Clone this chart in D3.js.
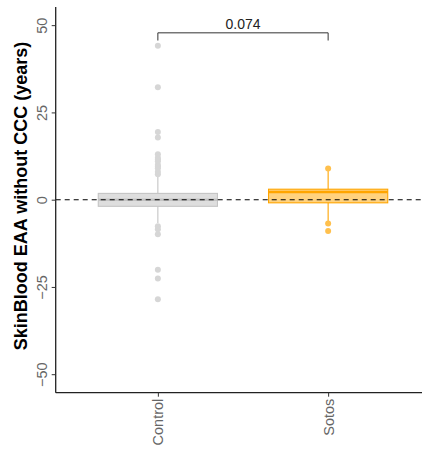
<!DOCTYPE html>
<html>
<head>
<meta charset="utf-8">
<script src="https://cdn.jsdelivr.net/npm/d3@7"></script>
<style>
  body { margin: 0; background: #fff; }
  text { font-family: "Liberation Sans", Arial, sans-serif; }
</style>
</head>
<body>
<script>
// box plot values
var categories = ["Control", "Sotos"];
var q1 = [-1.9, -0.9],
    median = [0, 2.2],
    q3 = [1.8, 3.0],
    whiskerLow = [-6.7, -6.8],
    whiskerHigh = [6.5, 8.9];
var controlPoints = [44.1, 32.2, 19.4, 17.8, 13, 12, 11.5, 11, 10, 9.5, 9, 8, 7.3,
                     -7.6, -8.5, -9.9, -20.1, -22.6, -28.5];
var sotosPoints = [8.9, -6.8, -9.0];
var yTicks = [-50, -25, 0, 25, 50];
var pLabel = "0.074";
var bracketY = 47.8, bracketTip = 45.6;

var strokeCol = ["#c4c4c4", "#ffa500"],
    fillCol = ["rgba(200,200,200,0.6)", "rgba(255,165,0,0.5)"],
    pointCol = ["#d6d6d6", "#ffc04d"];

var width = 422, height = 457;
var svg = d3.select("body").append("svg")
  .attr("width", width).attr("height", height);

var x = d3.scalePoint().domain(categories).range([55.7, 430.3]).padding(0.6);
var y = d3.scaleLinear().domain([-55.3, 55.2]).range([392.7, 7]);
var boxW = x.step() * 0.7;

// whiskers and boxes
categories.forEach(function(c, i) {
  var g = svg.append("g");
  g.append("line")
    .attr("x1", x(c)).attr("x2", x(c))
    .attr("y1", y(q3[i])).attr("y2", y(whiskerHigh[i]))
    .attr("stroke", strokeCol[i]).attr("stroke-width", 1.1);
  g.append("line")
    .attr("x1", x(c)).attr("x2", x(c))
    .attr("y1", y(q1[i])).attr("y2", y(whiskerLow[i]))
    .attr("stroke", strokeCol[i]).attr("stroke-width", 1.1);
  g.append("rect")
    .attr("x", x(c) - boxW / 2).attr("width", boxW)
    .attr("y", y(q3[i])).attr("height", y(q1[i]) - y(q3[i]))
    .attr("fill", fillCol[i]).attr("stroke", strokeCol[i]).attr("stroke-width", 1.1);
  g.append("line")
    .attr("x1", x(c) - boxW / 2).attr("x2", x(c) + boxW / 2)
    .attr("y1", y(median[i])).attr("y2", y(median[i]))
    .attr("stroke", strokeCol[i]).attr("stroke-width", 2.4);
});

// points
svg.append("g").selectAll("circle")
  .data(controlPoints.map(function(v) { return [0, v]; })
    .concat(sotosPoints.map(function(v) { return [1, v]; })))
  .enter().append("circle")
  .attr("cx", function(d) { return x(categories[d[0]]); })
  .attr("cy", function(d) { return y(d[1]); })
  .attr("r", 3)
  .attr("fill", function(d) { return pointCol[d[0]]; });

// dashed reference line at zero
svg.append("line")
  .attr("x1", 55.7).attr("x2", width)
  .attr("y1", y(0)).attr("y2", y(0))
  .attr("stroke", "#000").attr("stroke-width", 1.1)
  .attr("stroke-dasharray", "5,4");

// significance bracket
svg.append("path")
  .attr("d", "M" + x("Control") + "," + y(bracketTip) +
    "V" + y(bracketY) + "H" + x("Sotos") + "V" + y(bracketTip))
  .attr("fill", "none").attr("stroke", "#333").attr("stroke-width", 1);
svg.append("text")
  .attr("x", (x("Control") + x("Sotos")) / 2)
  .attr("y", y(bracketY) - 4)
  .attr("text-anchor", "middle")
  .attr("font-size", 14).attr("fill", "#222")
  .text(pLabel);

// axes
var yAxis = svg.append("g")
  .attr("transform", "translate(55.7,0)")
  .call(d3.axisLeft(y).tickValues(yTicks).tickSize(4).tickFormat(function(d) {
    return d < 0 ? "\u2212" + Math.abs(d) : d;
  }));
yAxis.select(".domain").attr("stroke", "#222").attr("stroke-width", 1.3)
  .attr("d", "M0,7V392.7");
yAxis.selectAll(".tick line").attr("stroke", "#333");
yAxis.selectAll(".tick text")
  .attr("font-size", 14.5).attr("fill", "#666")
  .attr("x", null).attr("dy", null)
  .attr("text-anchor", "middle")
  .attr("transform", "translate(-9,0) rotate(-90)");

var xAxis = svg.append("g")
  .attr("transform", "translate(0,392.7)")
  .call(d3.axisBottom(x).tickSize(4));
xAxis.select(".domain").attr("stroke", "#222").attr("stroke-width", 1.3)
  .attr("d", "M55.7,0H" + width);
xAxis.selectAll(".tick line").attr("stroke", "#333");
xAxis.selectAll(".tick text")
  .attr("font-size", 14.5).attr("fill", "#666")
  .attr("y", null).attr("dy", null)
  .attr("text-anchor", "end")
  .attr("transform", "translate(5,6) rotate(-90)");

// y title
svg.append("text")
  .attr("transform", "translate(27,196) rotate(-90)")
  .attr("text-anchor", "middle")
  .attr("font-size", 18).attr("font-weight", "bold").attr("fill", "#000")
  .text("SkinBlood EAA without CCC (years)");
</script>
</body>
</html>
